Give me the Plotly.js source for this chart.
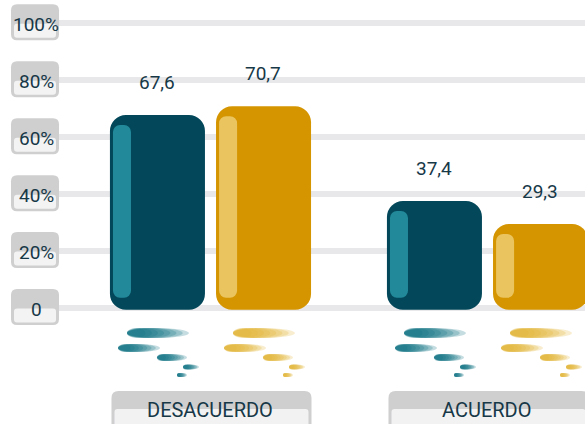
<!DOCTYPE html>
<html>
<head>
<meta charset="utf-8">
<script src="https://cdn.plot.ly/plotly-3.0.1.min.js"></script>
<style>
	html, body { margin: 0; padding: 0; background: #ffffff; }
	#chart { width: 585px; height: 424px; }
</style>
</head>
<body>
<div id="chart"></div>
<script>
// chart data
const categories = [ 'DESACUERDO', 'ACUERDO' ];
const darkValues = [ 67.6, 37.4 ];
const goldValues = [ 70.7, 29.3 ];
const tickValues = [ 0, 20, 40, 60, 80, 100 ];
const tickLabels = [ '0', '20%', '40%', '60%', '80%', '100%' ];

const textColor = '#173847';

/**
 * Rounded rectangle path, pixel coordinates with y pointing up.
 */
function roundedPath( x0, y0, x1, y1, r ) {

	return 'M' + ( x0 + r ) + ',' + y0 +
		' L' + ( x1 - r ) + ',' + y0 +
		' Q' + x1 + ',' + y0 + ' ' + x1 + ',' + ( y0 + r ) +
		' L' + x1 + ',' + ( y1 - r ) +
		' Q' + x1 + ',' + y1 + ' ' + ( x1 - r ) + ',' + y1 +
		' L' + ( x0 + r ) + ',' + y1 +
		' Q' + x0 + ',' + y1 + ' ' + x0 + ',' + ( y1 - r ) +
		' L' + x0 + ',' + ( y0 + r ) +
		' Q' + x0 + ',' + y0 + ' ' + ( x0 + r ) + ',' + y0 + ' Z';
}

/**
 * A floating bar from low to high, a base makes plotly round both ends.
 */
function roundedBar( low, highs, offset, width, color, radius ) {

	return {
		x: categories,
		y: highs.map( h => h - low ),
		base: categories.map( () => low ),
		type: 'bar',
		offset: offset,
		width: width,
		marker: { color: color, cornerradius: radius, line: { width: 0 } },
		hoverinfo: 'skip',
		showlegend: false
	};
}

let data = [
	roundedBar( -0.8, darkValues, -0.363, 0.343, '#03485a', 16 ),
	roundedBar( 3.4, darkValues.map( v => v - 3.5 ), -0.352, 0.065, '#22899a', 7 ),
	roundedBar( -0.8, goldValues, 0.02, 0.343, '#d59500', 16 ),
	roundedBar( 3.4, goldValues.map( v => v - 3.5 ), 0.031, 0.065, '#eac45e', 7 )
];

let shapes = [ ];
let annotations = [ ];

// boxes and labels of the y axis
for ( let i = 0; i < tickValues.length; i++ ) {

	shapes.push( {
		type: 'path', layer: 'above',
		xref: 'paper', xsizemode: 'pixel', xanchor: 0,
		yref: 'y', ysizemode: 'pixel', yanchor: tickValues[ i ],
		path: roundedPath( -47, -17.5, 1, 18.5, 6 ),
		fillcolor: '#cfcfd0', line: { width: 0 }
	} );
	shapes.push( {
		type: 'path', layer: 'above',
		xref: 'paper', xsizemode: 'pixel', xanchor: 0,
		yref: 'y', ysizemode: 'pixel', yanchor: tickValues[ i ],
		path: roundedPath( -44, -15, -2, -1, 3 ),
		fillcolor: '#f3f3f4', line: { width: 0 }
	} );
	annotations.push( {
		xref: 'paper', x: 0, xshift: -22, xanchor: 'center',
		yref: 'y', y: tickValues[ i ], yshift: -2, yanchor: 'middle',
		text: tickLabels[ i ], showarrow: false,
		font: { family: 'Roboto', size: 19, color: textColor }
	} );
}

// category boxes, value labels and the ellipses under each bar
const ellipses = [
	[ 17, 79, -30.5, -20.5 ],
	[ 8, 50, -44.5, -36.5 ],
	[ 47, 77, -53.5, -46.5 ],
	[ 73, 89, -62, -57 ],
	[ 67, 77, -69.5, -65.5 ]
];
const layers = [ 1, 0.9, 0.8, 0.7, 0.6, 0.5, 0.4, 0.3 ];

for ( let i = 0; i < categories.length; i++ ) {

	shapes.push( {
		type: 'path', layer: 'above',
		xref: 'x', xsizemode: 'pixel', xanchor: categories[ i ],
		yref: 'paper', ysizemode: 'pixel', yanchor: 0,
		path: roundedPath( -99, -10, 101, 33, 7 ),
		fillcolor: '#cfcfd0', line: { width: 0 }
	} );
	shapes.push( {
		type: 'path', layer: 'above',
		xref: 'x', xsizemode: 'pixel', xanchor: categories[ i ],
		yref: 'paper', ysizemode: 'pixel', yanchor: 0,
		path: roundedPath( -96, -10, 98, 15, 3 ),
		fillcolor: '#f2f2f3', line: { width: 0 }
	} );
	annotations.push( {
		xref: 'x', x: categories[ i ], xanchor: 'center',
		yref: 'paper', y: 0, yshift: 14, yanchor: 'middle',
		text: categories[ i ], showarrow: false,
		font: { family: 'Roboto', size: 20, color: textColor }
	} );

	const series = [
		{ values: darkValues, left: -100.5, center: -53, rgb: '11,114,128' },
		{ values: goldValues, left: 5.5, center: 53, rgb: '226,178,52' }
	];

	series.forEach( s => {

		annotations.push( {
			xref: 'x', x: categories[ i ], xshift: s.center, xanchor: 'center',
			yref: 'y', y: s.values[ i ], yshift: 33, yanchor: 'middle',
			text: s.values[ i ].toFixed( 1 ).replace( '.', ',' ),
			showarrow: false,
			font: { family: 'Roboto', size: 19, color: textColor }
		} );

		ellipses.forEach( e => {
			layers.forEach( l => {
				shapes.push( {
					type: 'circle', layer: 'above',
					xref: 'x', xsizemode: 'pixel', xanchor: categories[ i ],
					yref: 'y', ysizemode: 'pixel', yanchor: 0,
					x0: s.left + e[ 0 ],
					x1: s.left + e[ 0 ] + ( e[ 1 ] - e[ 0 ] ) * l,
					y0: e[ 2 ], y1: e[ 3 ],
					fillcolor: 'rgba(' + s.rgb + ',0.24)',
					line: { width: 0 }
				} );
			} );
		} );
	} );
}

let layout = {
	width: 585,
	height: 424,
	margin: { l: 58, r: 0, t: 0, b: 0 },
	paper_bgcolor: '#ffffff',
	plot_bgcolor: '#ffffff',
	barmode: 'overlay',
	xaxis: {
		range: [ -0.5505, 1.352 ],
		showgrid: false, zeroline: false, showline: false,
		showticklabels: false, ticks: ''
	},
	yaxis: {
		range: [ -40.9, 108 ],
		tickvals: tickValues,
		showticklabels: false,
		gridcolor: '#e8e8ea', gridwidth: 6,
		zeroline: false, showline: false, ticks: ''
	},
	shapes: shapes,
	annotations: annotations
};

Plotly.newPlot( 'chart', data, layout, { staticPlot: true } );
</script>
</body>
</html>
